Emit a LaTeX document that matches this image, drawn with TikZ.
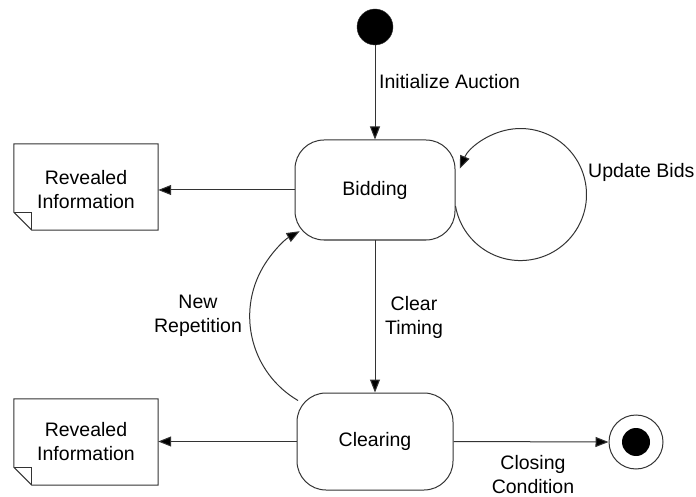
\documentclass[tikz,border=0pt]{standalone}
\usepackage{fontspec}
\setmainfont{Liberation Sans}
\usetikzlibrary{arrows.meta,calc}
\begin{document}
\begin{tikzpicture}[x=1pt,y=-1pt,
  line/.style={draw=black!80, line width=1pt},
  arr/.style={line, -{Triangle[length=13pt,width=10pt,fill=black]}},
  state/.style={line, rectangle, rounded corners=29pt, inner sep=0pt, font=\fontsize{19.5}{24}\selectfont},
  lbl/.style={font=\fontsize{19.5}{24}\selectfont, inner sep=0pt, align=center},
  docbox/.style={rectangle, minimum width=144pt, minimum height=86pt, inner sep=0pt}
]
\useasboundingbox (0,0) rectangle (696,497);

% states
\node[state, minimum width=160pt, minimum height=100pt] (bid) at (375,190) {Bidding};
\node[state, minimum width=156pt, minimum height=97pt] (clr) at (375,441.5) {Clearing};

% initial and final
\node[circle, fill=black, draw=black!80, minimum size=36pt, inner sep=0pt] (init) at (375,27) {};
\node[circle, line, minimum size=54pt, inner sep=0pt] (fin) at (636,442) {};
\node[circle, fill=black, minimum size=28pt, inner sep=0pt] (finin) at (fin) {};

% documents
\node[docbox] (doc1) at (86,187) {};
\node[docbox] (doc2) at (86,442) {};
\node[lbl] (doc1t) at (86,190) {Revealed\\Information};
\node[lbl] (doc2t) at (86,442) {Revealed\\Information};
\foreach \d in {doc1,doc2} {
  \draw[line] (\d.north west) -- (\d.north east) -- (\d.south east)
    -- ([xshift=18pt]\d.south west) -- ([yshift=18pt]\d.south west) -- cycle;
  \draw[line] ([yshift=18pt]\d.south west) -- ++(18,0) -- ([xshift=18pt]\d.south west);
}

% connectors
\draw[arr] (init.south) -- (bid.north);
\draw[arr] (bid.south) -- (clr.north);
\draw[arr] (bid.west) -- (bid.west -| doc1.east);
\draw[arr] (clr.west) -- (clr.west -| doc2.east);
\draw[arr] (clr.east) -- (fin.west);
\coordinate (loopstart) at ([yshift=-16pt]bid.east);
\draw[arr] (loopstart) arc[start angle=170, end angle=-157, radius=66];
\coordinate (repstart) at ($(clr.center)+(-77,-41)$);
\draw[arr] (repstart) arc[start angle=120.3, end angle=240.8, radius=97.5];

% labels
\node[lbl, anchor=west] (l1) at (379,82) {Initialize Auction};
\node[lbl, anchor=west] (l2) at (588,172) {Update Bids};
\node[lbl] (l3) at (198,316) {New\\Repetition};
\node[lbl] (l4) at (414,317) {Clear\\Timing};
\node[lbl] (l5) at (533,475) {Closing\\Condition};
\end{tikzpicture}
\end{document}
